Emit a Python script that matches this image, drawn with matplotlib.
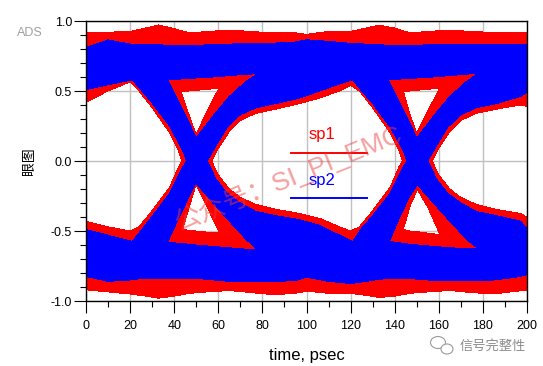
import numpy as np
import matplotlib
matplotlib.use("Agg")
import matplotlib.pyplot as plt
from matplotlib.path import Path
from matplotlib.patches import PathPatch, Ellipse

plt.rcParams['font.family'] = ['Liberation Sans', 'Noto Sans CJK SC', 'DejaVu Sans']
plt.rcParams['axes.unicode_minus'] = False

# outer envelope of all traces (time in psec, level)
t_env = [0, 10, 20, 27, 33, 40, 47, 55, 65, 75, 85, 95, 100, 110, 120, 127, 133, 140, 147, 155, 165, 175, 185, 195, 200]
red_top = [0.915, 0.92, 0.925, 0.95, 0.972, 0.945, 0.915, 0.925, 0.935, 0.925, 0.915, 0.915, 0.905, 0.925,
           0.925, 0.95, 0.97, 0.95, 0.915, 0.925, 0.935, 0.925, 0.918, 0.915, 0.915]
red_bot = [-0.92, -0.935, -0.95, -0.965, -0.98, -0.965, -0.945, -0.935, -0.925, -0.94, -0.955, -0.945, -0.93,
           -0.945, -0.945, -0.96, -0.975, -0.965, -0.945, -0.935, -0.925, -0.94, -0.95, -0.93, -0.925]
blue_top = [0.81, 0.865, 0.835, 0.83, 0.83, 0.825, 0.823, 0.83, 0.835, 0.84, 0.842, 0.85, 0.866, 0.855,
            0.84, 0.835, 0.83, 0.825, 0.825, 0.83, 0.835, 0.835, 0.83, 0.83, 0.83]
blue_bot = [-0.824, -0.86, -0.85, -0.836, -0.836, -0.84, -0.836, -0.845, -0.86, -0.86, -0.86, -0.855, -0.83,
            -0.86, -0.875, -0.86, -0.845, -0.836, -0.84, -0.85, -0.855, -0.855, -0.85, -0.83, -0.812]

# eye openings: (time, upper edge, lower edge)
blue_eye_left = ([0, 10, 21, 30, 38, 44, 45.5],
                 [0.51, 0.545, 0.58, 0.414, 0.247, 0.07, 0.0],
                 [-0.49, -0.53, -0.575, -0.395, -0.229, -0.04, 0.0])
blue_tri_up_50 = ([37, 42.3, 46.9, 49.9, 57.5, 65, 72.6, 77.9],
                  [0.58, 0.585, 0.59, 0.593, 0.60, 0.61, 0.62, 0.623],
                  [0.58, 0.414, 0.271, 0.164, 0.319, 0.461, 0.569, 0.623])
blue_tri_dn_50 = ([37, 42.3, 46.9, 49.9, 57.5, 65, 72.6, 77.9],
                  [-0.58, -0.40, -0.25, -0.157, -0.30, -0.43, -0.56, -0.634],
                  [-0.58, -0.588, -0.595, -0.60, -0.61, -0.62, -0.63, -0.634])
blue_eye_mid = ([55, 59, 64, 70, 77, 86, 97, 106, 115, 121, 125, 130, 138, 144, 145.5],
                [0, 0.11, 0.24, 0.33, 0.38, 0.41, 0.45, 0.50, 0.55, 0.58, 0.50, 0.41, 0.24, 0.07, 0],
                [0, -0.13, -0.23, -0.30, -0.36, -0.39, -0.42, -0.46, -0.53, -0.575, -0.48, -0.39, -0.23, -0.04, 0])
blue_tri_up_150 = ([137, 142.3, 146.9, 150, 157.5, 165, 172.6, 178],
                   [0.58, 0.585, 0.59, 0.593, 0.60, 0.61, 0.62, 0.628],
                   [0.58, 0.414, 0.271, 0.164, 0.319, 0.461, 0.569, 0.628])
blue_tri_dn_150 = ([137.6, 142.3, 146.9, 150.3, 157.5, 165, 172.6, 178],
                   [-0.574, -0.40, -0.25, -0.169, -0.30, -0.43, -0.56, -0.629],
                   [-0.574, -0.585, -0.595, -0.60, -0.61, -0.62, -0.625, -0.629])
blue_eye_right = ([155, 159, 164, 170, 177, 186, 197, 200],
                  [0, 0.11, 0.24, 0.33, 0.38, 0.41, 0.46, 0.49],
                  [0, -0.13, -0.23, -0.30, -0.36, -0.39, -0.43, -0.48])

red_eye_left = ([0, 10, 20, 24, 30, 38, 42, 43.5],
                [0.42, 0.50, 0.565, 0.50, 0.38, 0.20, 0.07, 0],
                [-0.43, -0.47, -0.50, -0.47, -0.355, -0.185, -0.04, 0])
red_tri_up_50 = ([43.1, 46.5, 49.9, 55, 60.3],
                 [0.495, 0.50, 0.505, 0.512, 0.52],
                 [0.495, 0.34, 0.19, 0.36, 0.52])
red_tri_dn_50 = ([43.8, 47, 49.9, 55, 60.5],
                 [-0.49, -0.32, -0.169, -0.33, -0.515],
                 [-0.49, -0.495, -0.50, -0.508, -0.515])
red_eye_mid = ([57, 60, 65, 70, 77, 86, 97, 106, 115, 120, 124, 130, 138, 142, 143.5],
               [0, 0.09, 0.21, 0.29, 0.34, 0.37, 0.41, 0.45, 0.50, 0.54, 0.50, 0.38, 0.20, 0.07, 0],
               [0, -0.10, -0.20, -0.26, -0.31, -0.345, -0.375, -0.41, -0.47, -0.50, -0.47, -0.355, -0.185, -0.04, 0])
red_tri_up_150 = ([143.9, 147, 150, 155, 160.5],
                  [0.497, 0.50, 0.505, 0.512, 0.521],
                  [0.497, 0.33, 0.20, 0.36, 0.521])
red_tri_dn_150 = ([143.9, 147, 150.3, 155, 160.5],
                  [-0.49, -0.32, -0.205, -0.33, -0.526],
                  [-0.49, -0.50, -0.505, -0.515, -0.526])
red_eye_right = ([157, 160, 165, 170, 177, 186, 197, 200],
                 [0, 0.09, 0.21, 0.29, 0.34, 0.37, 0.40, 0.39],
                 [0, -0.10, -0.20, -0.26, -0.31, -0.345, -0.375, -0.40])

x_ticks = [0, 20, 40, 60, 80, 100, 120, 140, 160, 180, 200]
y_ticks = [-1.0, -0.5, 0.0, 0.5, 1.0]
y_tick_labels = ['-1.0', '-0.5', '0.0', '0.5', '1.0']


def ring(t, hi, lo):
    xs = list(t) + list(t)[::-1]
    ys = list(hi) + list(lo)[::-1]
    return np.column_stack([xs, ys]).astype(float)


def area(v):
    x, y = v[:, 0], v[:, 1]
    return 0.5 * np.sum(x * np.roll(y, -1) - np.roll(x, -1) * y)


def add_region(ax, outer, holes, color):
    verts, codes = [], []
    for i, r in enumerate([outer] + holes):
        # outer ring counter-clockwise, holes clockwise
        if (area(r) > 0) != (i == 0):
            r = r[::-1]
        verts += list(r) + [r[0]]
        codes += [Path.MOVETO] + [Path.LINETO] * (len(r) - 1) + [Path.CLOSEPOLY]
    ax.add_patch(PathPatch(Path(verts, codes), fc=color, ec='none', lw=0,
                           antialiased=False, zorder=2))


fig = plt.figure(figsize=(5.43, 3.66), dpi=100)
ax = fig.add_axes([86 / 543, 65 / 366, 441 / 543, 280 / 366])

red_holes = [red_eye_left, red_tri_up_50, red_tri_dn_50, red_eye_mid,
             red_tri_up_150, red_tri_dn_150, red_eye_right]
blue_holes = [blue_eye_left, blue_tri_up_50, blue_tri_dn_50, blue_eye_mid,
              blue_tri_up_150, blue_tri_dn_150, blue_eye_right]

add_region(ax, ring(t_env, red_top, red_bot), [ring(*h) for h in red_holes], '#ff0000')
add_region(ax, ring(t_env, blue_top, blue_bot), [ring(*h) for h in blue_holes], '#0000ff')

ax.set_xlim(0, 200)
ax.set_ylim(-1, 1)
ax.set_xticks(x_ticks)
ax.set_xticks(np.arange(0, 201, 10), minor=True)
ax.set_yticks(y_ticks)
ax.set_yticklabels(y_tick_labels)
ax.set_yticks(np.arange(-1, 1.01, 0.1), minor=True)
ax.grid(True, which='major', color='#c0c0c0', lw=1.0)
ax.set_axisbelow(True)
ax.tick_params(which='major', length=8.6, width=0.8, color='black', labelsize=9)
ax.tick_params(which='minor', length=4.3, width=0.8, color='black')
ax.tick_params(axis='x', which='major', pad=5)
ax.tick_params(axis='y', which='major', pad=1.5)
for s in ax.spines.values():
    s.set_color('black')
    s.set_linewidth(1.0)

ax.set_xlabel('time, psec', fontsize=12)
ax.xaxis.set_label_coords(0.5, -0.168)
ax.set_ylabel('眼图', fontsize=10, family=['Noto Sans CJK SC', 'DejaVu Sans'])
ax.yaxis.set_label_coords(-0.113, 0.5)

# legend drawn inside the plot like ADS does
ax.text(0.535, 0.593, 'sp1', color='#ff0000', fontsize=12, ha='center', va='center', transform=ax.transAxes, zorder=4)
ax.plot([0.465, 0.637], [0.529, 0.529], color='#ff0000', lw=1.4, transform=ax.transAxes, zorder=4)
ax.text(0.535, 0.432, 'sp2', color='#0000ff', fontsize=12, ha='center', va='center', transform=ax.transAxes, zorder=4)
ax.plot([0.465, 0.637], [0.368, 0.368], color='#0000ff', lw=1.4, transform=ax.transAxes, zorder=4)

# watermark
ax.text(0.458, 0.44, '公众号：SI_PI_EMC', color=(0.93, 0.25, 0.25), alpha=0.5, fontsize=19,
        rotation=22, rotation_mode='anchor', ha='center', va='center',
        transform=ax.transAxes, zorder=5)

fig.text(29.5 / 543, 1 - 33 / 366, 'ADS', color='#a0a0a0', fontsize=9, ha='center', va='center')
fig.text(493 / 543, 1 - 346 / 366, '信号完整性', color='#8c8c8c', fontsize=9.5, ha='center', va='center')
fig.add_artist(Ellipse((4.38, 0.235), 0.15, 0.12, transform=fig.dpi_scale_trans, fc='white', ec='#9a9a9a', lw=0.8))
fig.add_artist(Ellipse((4.47, 0.17), 0.12, 0.10, transform=fig.dpi_scale_trans, fc='white', ec='#9a9a9a', lw=0.8))

fig.savefig('out.png', dpi=100)
